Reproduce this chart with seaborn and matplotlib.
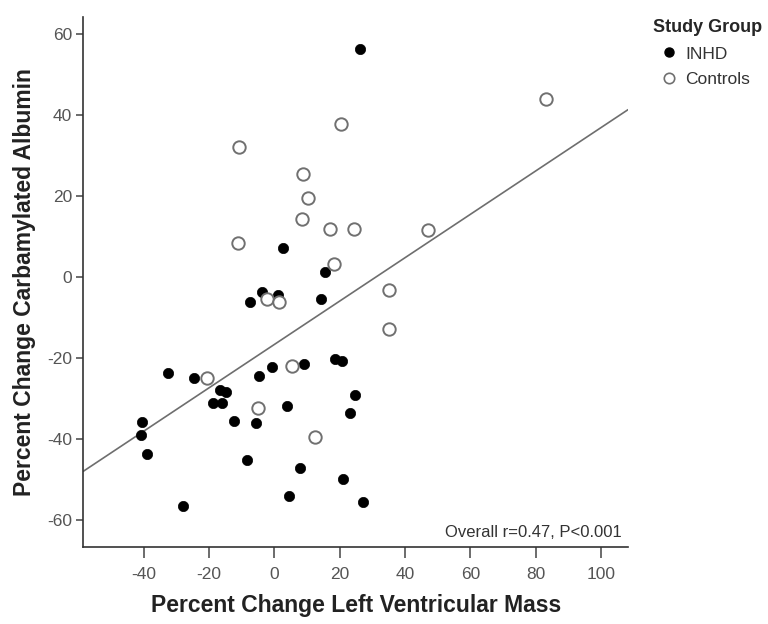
import matplotlib
matplotlib.use('Agg')
import matplotlib.pyplot as plt
import pandas as pd
import seaborn as sns
from matplotlib.lines import Line2D

# Data
inhd_x = [26.2, 2.6, 15.5, -3.9, 1.1, -7.4, 14.3, -32.5, -24.6, -0.6, 9.0, -4.7, 18.7, 20.7,
          -16.6, -14.7, -18.9, -16.1, 24.8, 23.1, 3.9, -40.4, -40.9, -39.1, -12.3, -5.5,
          -8.3, 7.8, 20.9, 4.6, -27.9, 27.0]
inhd_y = [56.3, 7.2, 1.4, -3.7, -4.4, -6.1, -5.4, -23.6, -24.9, -22.1, -21.5, -24.5, -20.2, -20.7,
          -27.9, -28.4, -31.1, -31.1, -29.0, -33.5, -31.8, -35.8, -38.9, -43.6, -35.6, -36.0,
          -45.2, -47.0, -49.7, -54.0, -56.4, -55.4]
ctrl_x = [20.4, -10.7, 8.7, 10.3, 8.4, 17.1, 24.4, -11.1, 18.3, 83.1, 47.2, -2.1, 1.5,
          -20.6, 5.4, -4.9, 12.6, 35.1, 35.2]
ctrl_y = [37.7, 32.2, 25.4, 19.6, 14.4, 11.9, 11.8, 8.5, 3.2, 44.0, 11.7, -5.3, -6.0,
          -24.9, -21.8, -32.3, -39.4, -3.2, -12.7]

df = pd.DataFrame({
    'lvm': inhd_x + ctrl_x,
    'carb': inhd_y + ctrl_y,
    'group': ['INHD'] * len(inhd_x) + ['Controls'] * len(ctrl_x),
})

sns.set_style('white')
plt.rcParams['font.family'] = ['Liberation Sans', 'DejaVu Sans']
plt.rcParams['axes.unicode_minus'] = False

fig = plt.figure(figsize=(7.68, 6.24), dpi=100)
ax = fig.add_axes([0.1085, 0.1239, 0.7092, 0.8494])
ax.set_xlim(-58.5, 108.3)
ax.set_ylim(-66.5, 64.3)

# overall fit line across the whole x range
sns.regplot(data=df, x='lvm', y='carb', scatter=False, ci=None, truncate=False,
            ax=ax, line_kws={'color': '#6e6e6e', 'lw': 1.2})

sns.scatterplot(data=df[df.group == 'INHD'], x='lvm', y='carb', ax=ax,
                color='black', edgecolor='black', s=55, linewidth=0.5, zorder=3)
sns.scatterplot(data=df[df.group == 'Controls'], x='lvm', y='carb', ax=ax,
                facecolor='white', edgecolor='#707070', s=80, linewidth=1.4, zorder=4)

ax.set_xlim(-58.5, 108.3)
ax.set_ylim(-66.5, 64.3)
ax.set_xticks([-40, -20, 0, 20, 40, 60, 80, 100])
ax.set_yticks([-60, -40, -20, 0, 20, 40, 60])

for s in ['top', 'right']:
    ax.spines[s].set_visible(False)
for s in ['left', 'bottom']:
    ax.spines[s].set_color('#333333')
    ax.spines[s].set_linewidth(1.2)

ax.tick_params(axis='x', length=8, width=1.1, color='#444444', labelsize=12.5,
               labelcolor='#555555', pad=6.5, bottom=True)
ax.tick_params(axis='y', length=5, width=1.1, color='#444444', labelsize=12.5,
               labelcolor='#555555', pad=3, left=True)

ax.set_xlabel('Percent Change Left Ventricular Mass', fontsize=16.5, fontweight='bold',
              color='#222222', labelpad=9)
ax.set_ylabel('Percent Change Carbamylated Albumin', fontsize=16.5, fontweight='bold',
              color='#222222', labelpad=8)

ax.text(0.989, 0.027, 'Overall r=0.47, P<0.001', transform=ax.transAxes,
        ha='right', va='center', fontsize=12, color='#333333')

handles = [
    Line2D([], [], marker='o', ls='', color='black', markersize=6.5),
    Line2D([], [], marker='o', ls='', markerfacecolor='white', markeredgecolor='#707070',
           markeredgewidth=1.2, markersize=7.5),
]
leg = ax.legend(handles, ['INHD', 'Controls'], title='Study Group', loc='upper left',
                bbox_to_anchor=(653 / 768, 1 - 19 / 624), bbox_transform=fig.transFigure,
                frameon=False, fontsize=12.5, handlelength=1.8, handletextpad=0.05,
                labelspacing=0.6, borderpad=0, borderaxespad=0, alignment='left')
leg.get_title().set_fontweight('bold')
leg.get_title().set_fontsize(13)
for t in leg.get_texts():
    t.set_color('#333333')

fig.savefig('out.png', dpi=100)
